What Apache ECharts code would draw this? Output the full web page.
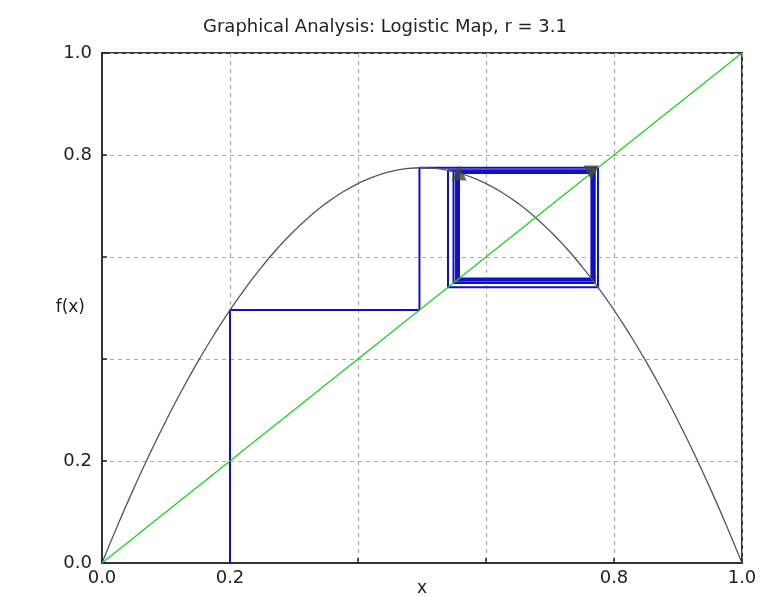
<!DOCTYPE html>
<html>
<head>
<meta charset="utf-8">
<script src="https://cdn.jsdelivr.net/npm/echarts@6/dist/echarts.min.js"></script>
<style>
  html, body { margin: 0; padding: 0; background: #fff; }
  #chart { width: 770px; height: 597px; }
</style>
</head>
<body>
<div id="chart"></div>
<script>
// logistic map f(x) = r x (1 - x), r = 3.1, sampled every 0.025
const curveX = [0, 0.025, 0.05, 0.075, 0.1, 0.125, 0.15, 0.175, 0.2, 0.225, 0.25, 0.275, 0.3, 0.325, 0.35, 0.375, 0.4, 0.425, 0.45, 0.475, 0.5,
  0.525, 0.55, 0.575, 0.6, 0.625, 0.65, 0.675, 0.7, 0.725, 0.75, 0.775, 0.8, 0.825, 0.85, 0.875, 0.9, 0.925, 0.95, 0.975, 1]
const curveY = [0, 0.0756, 0.1473, 0.2151, 0.279, 0.3391, 0.3953, 0.4476, 0.496, 0.5406, 0.5813, 0.6181, 0.651, 0.6801, 0.7053, 0.7266, 0.744, 0.7576, 0.7673, 0.7731, 0.775,
  0.7731, 0.7673, 0.7576, 0.744, 0.7266, 0.7053, 0.6801, 0.651, 0.6181, 0.5813, 0.5406, 0.496, 0.4476, 0.3953, 0.3391, 0.279, 0.2151, 0.1473, 0.0756, 0]

// orbit starting at x0 = 0.2
const orbit = [0.2, 0.496, 0.775, 0.5406, 0.7699, 0.5492, 0.7675, 0.5532, 0.7662, 0.5553, 0.7655, 0.5564, 0.7651,
  0.5571, 0.7649, 0.5575, 0.7648, 0.5577, 0.7647, 0.5578, 0.7646]

// end markers of the 2-cycle
const markerX = [0.558, 0.7646]
const markerY = [0.7646, 0.7646]

const tickLabels = ['0.0', '0.2', '', '', '0.8', '1.0']

const curveData = curveX.map((x, i) => [x, curveY[i]])

const cobweb = [[orbit[0], 0]]
for (let i = 0; i < orbit.length - 1; i++) {
  cobweb.push([orbit[i], orbit[i + 1]])
  cobweb.push([orbit[i + 1], orbit[i + 1]])
}

const chart = echarts.init(document.getElementById('chart'))

const axisCommon = {
  type: 'value',
  min: 0,
  max: 1,
  interval: 0.2,
  nameMoveOverlap: false,
  axisLine: { show: true, onZero: false, lineStyle: { color: '#333', width: 2 } },
  axisTick: { show: true, inside: true, length: 5, lineStyle: { color: '#222', width: 1.5 } },
  axisLabel: {
    color: '#222',
    fontFamily: 'DejaVu Sans',
    fontSize: 18,
    formatter: (v) => tickLabels[Math.round(v * 5)]
  },
  splitLine: { show: true, lineStyle: { color: '#aaa', type: [4, 4], width: 1 } },
  nameTextStyle: { color: '#222', fontFamily: 'DejaVu Sans', fontSize: 17 }
}

chart.setOption({
  backgroundColor: '#fff',
  animation: false,
  title: {
    text: 'Graphical Analysis: Logistic Map, r = 3.1',
    left: 'center',
    top: 13,
    textStyle: { color: '#222', fontFamily: 'DejaVu Sans', fontSize: 18, fontWeight: 'normal' }
  },
  grid: {
    left: 102, right: 28, top: 53, bottom: 34,
    outerBoundsMode: 'none',
    containLabel: false,
    show: true, borderColor: '#333', borderWidth: 2, backgroundColor: 'transparent'
  },
  xAxis: Object.assign({}, axisCommon, {
    name: 'x',
    nameLocation: 'middle',
    nameGap: 17,
    axisLabel: Object.assign({}, axisCommon.axisLabel, { margin: 6 })
  }),
  yAxis: Object.assign({}, axisCommon, {
    name: 'f(x)',
    nameLocation: 'middle',
    nameRotate: 0,
    nameGap: 17,
    axisLabel: Object.assign({}, axisCommon.axisLabel, { margin: 10 })
  }),
  series: [
    {
      type: 'line',
      data: curveData,
      smooth: true,
      showSymbol: false,
      lineStyle: { color: '#555', width: 1.3 },
      z: 3
    },
    {
      type: 'line',
      data: cobweb,
      showSymbol: false,
      lineStyle: { color: '#1010c8', width: 2 },
      z: 2
    },
    {
      type: 'line',
      data: [[0, 0], [1, 1]],
      showSymbol: false,
      lineStyle: { color: '#22cc22', width: 1.3 },
      z: 4
    },
    {
      type: 'scatter',
      data: [
        { value: [markerX[0], markerY[0]], symbolRotate: 0 },
        { value: [markerX[1], markerY[1]], symbolRotate: 180 }
      ],
      symbol: 'triangle',
      symbolSize: 15,
      itemStyle: { color: '#444' },
      z: 5
    }
  ]
})
</script>
</body>
</html>
